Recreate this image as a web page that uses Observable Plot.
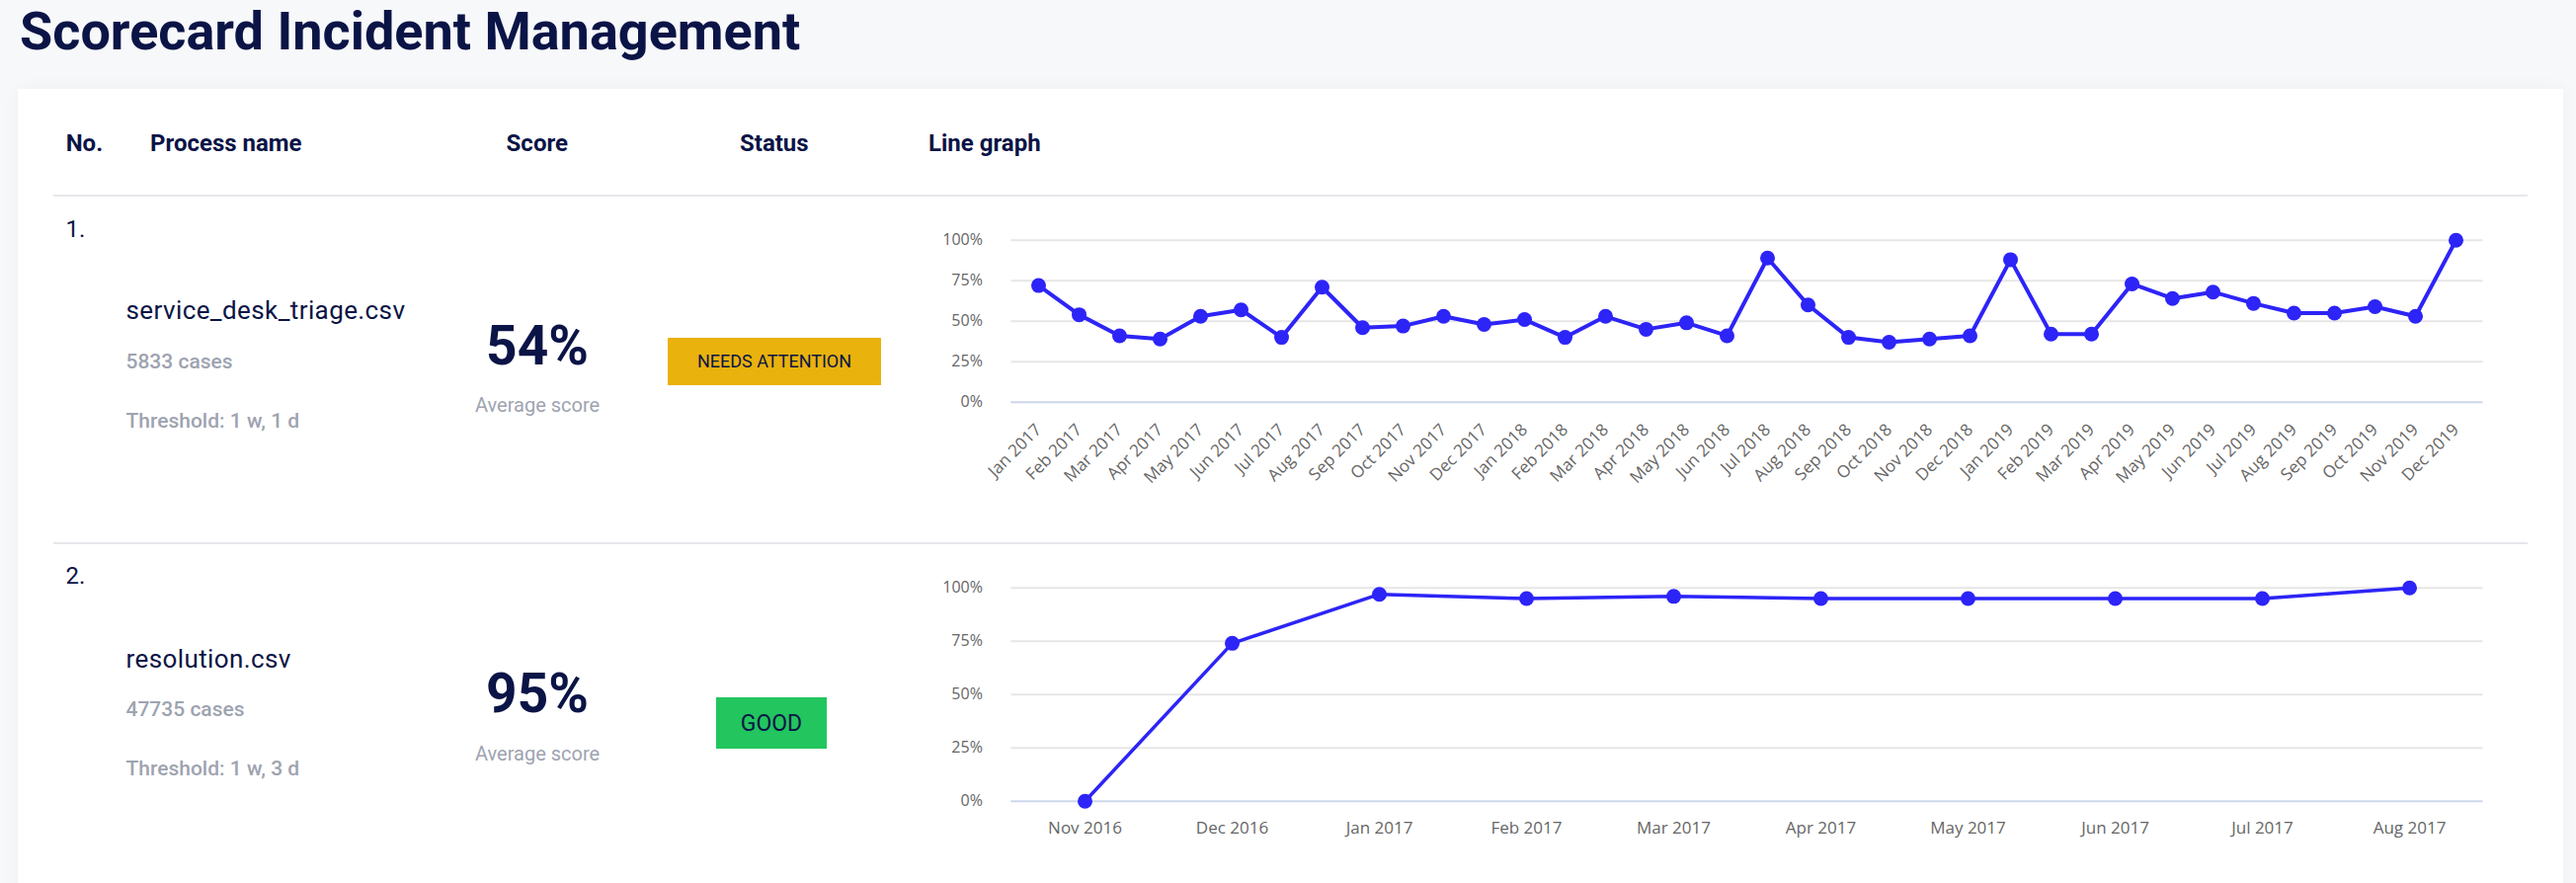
<!DOCTYPE html>
<html>
<head>
<meta charset="utf-8">
<script src="https://cdn.jsdelivr.net/npm/d3@7"></script>
<script src="https://cdn.jsdelivr.net/npm/@observablehq/plot@0.6"></script>
<style>
  html, body { margin: 0; padding: 0; }
  body { width: 2608px; height: 894px; background: #f7f8fa; overflow: hidden; position: relative; font-family: Roboto, "Noto Sans", sans-serif; color: #0b1446; }
  .abs { position: absolute; line-height: 1; white-space: nowrap; }
  .card { position: absolute; left: 18px; top: 90px; width: 2577px; height: 860px; background: #fff; box-shadow: 0 0 18px rgba(20,30,60,0.04); }
  .rule { position: absolute; left: 54px; width: 2505px; height: 2px; background: #e6e7eb; }
  .hdr { font-size: 24px; font-weight: 700; }
  .num { font-size: 24px; font-weight: 400; }
  .name { font-size: 26px; font-weight: 400; letter-spacing: 0.4px; }
  .meta { font-size: 21px; font-weight: 500; color: #9ea3b0; }
  .big { font-size: 55px; font-weight: 700; text-align: center; width: 200px; }
  .avg { font-size: 20px; font-weight: 400; color: #9ea3b0; text-align: center; width: 200px; }
  .badge { position: absolute; display: flex; align-items: center; justify-content: center; color: #0b1446; line-height: 1; }
  .chart { position: absolute; }
</style>
</head>
<body>
<div class="abs" id="title" style="left:20px; top:4.5px; font-size:54px; font-weight:700;">Scorecard Incident Management</div>
<div class="card"></div>
<div id="content"></div>
<script>
// ---- data ----
const headers = ["No.", "Process name", "Score", "Status", "Line graph"];
const rowNumbers = ["1.", "2."];
const processNames = ["service_desk_triage.csv", "resolution.csv"];
const caseCounts = ["5833 cases", "47735 cases"];
const thresholds = ["Threshold: 1 w, 1 d", "Threshold: 1 w, 3 d"];
const scores = ["54%", "95%"];
const scoreCaption = "Average score";
const statuses = ["NEEDS ATTENTION", "GOOD"];
const statusColors = ["#e9b20c", "#22c55e"];

const months1 = ["Jan 2017","Feb 2017","Mar 2017","Apr 2017","May 2017","Jun 2017","Jul 2017","Aug 2017","Sep 2017","Oct 2017","Nov 2017","Dec 2017",
  "Jan 2018","Feb 2018","Mar 2018","Apr 2018","May 2018","Jun 2018","Jul 2018","Aug 2018","Sep 2018","Oct 2018","Nov 2018","Dec 2018",
  "Jan 2019","Feb 2019","Mar 2019","Apr 2019","May 2019","Jun 2019","Jul 2019","Aug 2019","Sep 2019","Oct 2019","Nov 2019","Dec 2019"];
const values1 = [72, 54, 41, 39, 53, 57, 40, 71, 46, 47, 53, 48,
  51, 40, 53, 45, 49, 41, 89, 60, 40, 37, 39, 41,
  88, 42, 42, 73, 64, 68, 61, 55, 55, 59, 53, 100];

const months2 = ["Nov 2016","Dec 2016","Jan 2017","Feb 2017","Mar 2017","Apr 2017","May 2017","Jun 2017","Jul 2017","Aug 2017"];
const values2 = [0, 74, 97, 95, 96, 95, 95, 95, 95, 100];

const yTicks = [0, 25, 50, 75, 100];
const BLUE = "#2d24f7";

// ---- layout ----
const content = document.getElementById("content");
function addText(cls, text, left, top, extra) {
  const d = document.createElement("div");
  d.className = "abs " + cls;
  d.textContent = text;
  d.style.left = left + "px";
  d.style.top = top + "px";
  if (extra) Object.assign(d.style, extra);
  content.appendChild(d);
  return d;
}
function addRule(top) {
  const d = document.createElement("div");
  d.className = "rule";
  d.style.top = top + "px";
  content.appendChild(d);
}

// header
const headerX = [66.7, 152, 512.6, 749, 940];
headers.forEach((h, i) => addText("hdr", h, headerX[i], 133.1));
addRule(197.3);
addRule(549);

// rows
const rows = [
  {num: 219.8, name: 301.4, cases: 356.3, thr: 416.3, big: 322.7, avg: 400.2,
   badge: {left: 676, top: 342, width: 216, height: 48, fs: 18}},
  {num: 570.5, name: 653.8, cases: 708.3, thr: 768.3, big: 675.4, avg: 753.2,
   badge: {left: 725, top: 706, width: 112, height: 52, fs: 23}}
];
rows.forEach((r, i) => {
  addText("num", rowNumbers[i], 66.5, r.num);
  addText("name", processNames[i], 127.5, r.name);
  addText("meta", caseCounts[i], 127.5, r.cases);
  addText("meta", thresholds[i], 127.5, r.thr);
  addText("big", scores[i], 444, r.big);
  addText("avg", scoreCaption, 444, r.avg);
  const b = document.createElement("div");
  b.className = "badge";
  Object.assign(b.style, {left: r.badge.left + "px", top: r.badge.top + "px", width: r.badge.width + "px",
    height: r.badge.height + "px", background: statusColors[i], fontSize: r.badge.fs + "px"});
  b.textContent = statuses[i];
  content.appendChild(b);
});

// charts
function lineChart(months, values, opts) {
  const data = months.map((m, i) => ({month: m, value: values[i]}));
  const svg = Plot.plot({
    width: opts.width, height: opts.height,
    marginLeft: opts.marginLeft, marginRight: opts.marginRight,
    marginTop: opts.marginTop, marginBottom: opts.marginBottom,
    style: {fontFamily: "'Open Sans', sans-serif", fontSize: "16px", color: "#666", background: "transparent", overflow: "visible"},
    x: {type: "point", domain: months, padding: 0.5, label: null, tickSize: 0, tickPadding: opts.xPad, tickRotate: opts.rotate},
    y: {domain: [0, 100], ticks: yTicks, tickFormat: d => d + "%", label: null, tickSize: 0, tickPadding: 29},
    marks: [
      Plot.ruleY(yTicks.filter(t => t > 0), {stroke: "#e6e6e6", strokeWidth: 2}),
      Plot.ruleY([0], {stroke: "#ccd6eb", strokeWidth: 2}),
      Plot.line(data, {x: "month", y: "value", stroke: BLUE, strokeWidth: opts.sw}),
      Plot.dot(data, {x: "month", y: "value", r: 7.5, fill: BLUE})
    ]
  });
  svg.querySelectorAll("g[aria-label^='x-axis']").forEach(g => g.setAttribute("font-size", "17"));
  return svg;
}
function place(svg, left, top) {
  const w = document.createElement("div");
  w.className = "chart";
  w.style.left = left + "px";
  w.style.top = top + "px";
  w.appendChild(svg);
  content.appendChild(w);
}
place(lineChart(months1, values1, {width: 1600, height: 300, marginLeft: 83.4, marginRight: 26.5,
  marginTop: 22.7, marginBottom: 113.3, xPad: 25, rotate: -45, sw: 4}), 940, 220);
place(lineChart(months2, values2, {width: 1600, height: 310, marginLeft: 83.4, marginRight: 26.5,
  marginTop: 24.7, marginBottom: 69.3, xPad: 21, rotate: 0, sw: 3.5}), 940, 570);
</script>
</body>
</html>
